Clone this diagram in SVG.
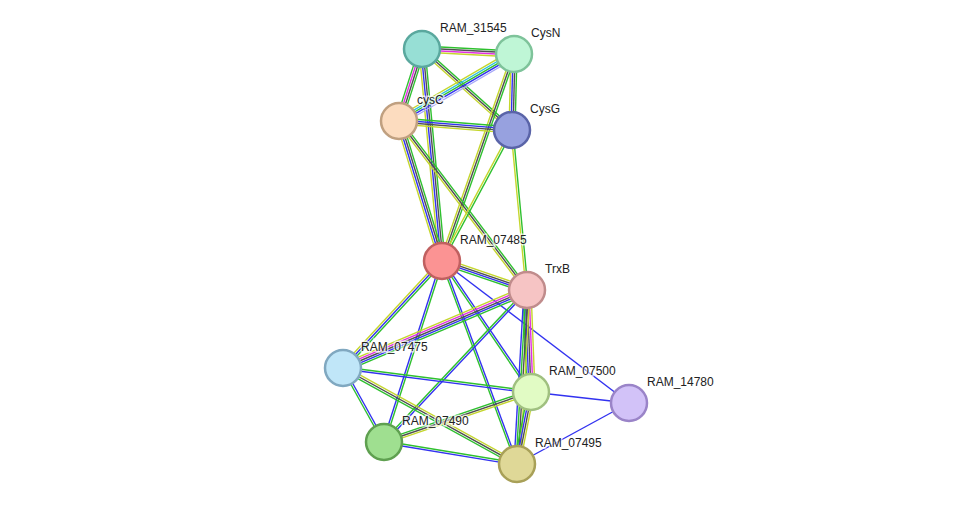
<svg xmlns="http://www.w3.org/2000/svg" width="976" height="510" viewBox="0 0 976 510">
<style>
line{stroke-width:1.4;fill:none}
.g{stroke:#2ec02e}.b{stroke:#3232f0}.k{stroke:#505050}.y{stroke:#c4d62c}.m{stroke:#e030e0}.c{stroke:#30c0e0}.l{stroke:#a8a8f8}
circle{stroke-width:2.5}
text{font-family:"Liberation Sans",Arial,sans-serif;font-size:12px;fill:#222;stroke:#fff;stroke-width:3;stroke-opacity:0.7;paint-order:stroke}
</style>
<rect width="976" height="510" fill="#fff"/>
<g id="edges">
<g><line class="g" x1="422" y1="49" x2="514" y2="54" transform="translate(0,-3)"/><line class="k" x1="422" y1="49" x2="514" y2="54" transform="translate(0,-1)"/><line class="m" x1="422" y1="49" x2="514" y2="54" transform="translate(0,1)"/><line class="y" x1="422" y1="49" x2="514" y2="54" transform="translate(0,3)"/></g>
<g><line class="g" x1="422" y1="49" x2="399" y2="121" transform="translate(2.9,0.9)"/><line class="k" x1="422" y1="49" x2="399" y2="121" transform="translate(1,0.3)"/><line class="m" x1="422" y1="49" x2="399" y2="121" transform="translate(-1,-0.3)"/><line class="g" x1="422" y1="49" x2="399" y2="121" transform="translate(-2.9,-0.9)"/></g>
<g><line class="g" x1="422" y1="49" x2="512" y2="130" transform="translate(1.3,-1.5)"/><line class="k" x1="422" y1="49" x2="512" y2="130"/><line class="y" x1="422" y1="49" x2="512" y2="130" transform="translate(-1.3,1.5)"/></g>
<g><line class="g" x1="422" y1="49" x2="442" y2="261" transform="translate(3,-0.3)"/><line class="k" x1="422" y1="49" x2="442" y2="261" transform="translate(1,-0.1)"/><line class="b" x1="422" y1="49" x2="442" y2="261" transform="translate(-1,0.1)"/><line class="y" x1="422" y1="49" x2="442" y2="261" transform="translate(-3,0.3)"/></g>
<g><line class="l" x1="514" y1="54" x2="399" y2="121" transform="translate(2,3.5)"/><line class="b" x1="514" y1="54" x2="399" y2="121" transform="translate(1,1.7)"/><line class="g" x1="514" y1="54" x2="399" y2="121"/><line class="c" x1="514" y1="54" x2="399" y2="121" transform="translate(-1,-1.7)"/><line class="y" x1="514" y1="54" x2="399" y2="121" transform="translate(-2,-3.5)"/></g>
<g><line class="g" x1="514" y1="54" x2="512" y2="130" transform="translate(3,0)"/><line class="k" x1="514" y1="54" x2="512" y2="130" transform="translate(1,0)"/><line class="b" x1="514" y1="54" x2="512" y2="130" transform="translate(-1,0)"/><line class="y" x1="514" y1="54" x2="512" y2="130" transform="translate(-3,0)"/></g>
<g><line class="g" x1="514" y1="54" x2="442" y2="261" transform="translate(1.9,0.7)"/><line class="k" x1="514" y1="54" x2="442" y2="261"/><line class="y" x1="514" y1="54" x2="442" y2="261" transform="translate(-1.9,-0.7)"/></g>
<g><line class="g" x1="399" y1="121" x2="512" y2="130" transform="translate(0.2,-3)"/><line class="b" x1="399" y1="121" x2="512" y2="130" transform="translate(0.1,-1)"/><line class="k" x1="399" y1="121" x2="512" y2="130" transform="translate(-0.1,1)"/><line class="y" x1="399" y1="121" x2="512" y2="130" transform="translate(-0.2,3)"/></g>
<g><line class="g" x1="399" y1="121" x2="442" y2="261" transform="translate(2.9,-0.9)"/><line class="k" x1="399" y1="121" x2="442" y2="261" transform="translate(1,-0.3)"/><line class="b" x1="399" y1="121" x2="442" y2="261" transform="translate(-1,0.3)"/><line class="y" x1="399" y1="121" x2="442" y2="261" transform="translate(-2.9,0.9)"/></g>
<g><line class="g" x1="399" y1="121" x2="527" y2="290" transform="translate(1.6,-1.2)"/><line class="k" x1="399" y1="121" x2="527" y2="290"/><line class="y" x1="399" y1="121" x2="527" y2="290" transform="translate(-1.6,1.2)"/></g>
<g><line class="g" x1="512" y1="130" x2="442" y2="261" transform="translate(0.9,0.5)"/><line class="y" x1="512" y1="130" x2="442" y2="261" transform="translate(-0.9,-0.5)"/></g>
<g><line class="g" x1="512" y1="130" x2="527" y2="290" transform="translate(1,-0.1)"/><line class="y" x1="512" y1="130" x2="527" y2="290" transform="translate(-1,0.1)"/></g>
<g><line class="y" x1="442" y1="261" x2="527" y2="290" transform="translate(1,-2.8)"/><line class="k" x1="442" y1="261" x2="527" y2="290" transform="translate(0.3,-0.9)"/><line class="b" x1="442" y1="261" x2="527" y2="290" transform="translate(-0.3,0.9)"/><line class="g" x1="442" y1="261" x2="527" y2="290" transform="translate(-1,2.8)"/></g>
<g><line class="g" x1="442" y1="261" x2="343" y2="368" transform="translate(1.5,1.4)"/><line class="b" x1="442" y1="261" x2="343" y2="368"/><line class="y" x1="442" y1="261" x2="343" y2="368" transform="translate(-1.5,-1.4)"/></g>
<g><line class="g" x1="442" y1="261" x2="384" y2="442" transform="translate(1,0.3)"/><line class="b" x1="442" y1="261" x2="384" y2="442" transform="translate(-1,-0.3)"/></g>
<g><line class="b" x1="442" y1="261" x2="531" y2="392" transform="translate(0.8,-0.6)"/><line class="g" x1="442" y1="261" x2="531" y2="392" transform="translate(-0.8,0.6)"/></g>
<g><line class="b" x1="442" y1="261" x2="517" y2="464" transform="translate(0.9,-0.3)"/><line class="g" x1="442" y1="261" x2="517" y2="464" transform="translate(-0.9,0.3)"/></g>
<line class="b" x1="442" y1="261" x2="629" y2="403"/>
<g><line class="g" x1="527" y1="290" x2="343" y2="368" transform="translate(1.6,3.7)"/><line class="b" x1="527" y1="290" x2="343" y2="368" transform="translate(0.8,1.8)"/><line class="k" x1="527" y1="290" x2="343" y2="368"/><line class="m" x1="527" y1="290" x2="343" y2="368" transform="translate(-0.8,-1.8)"/><line class="y" x1="527" y1="290" x2="343" y2="368" transform="translate(-1.6,-3.7)"/></g>
<g><line class="y" x1="527" y1="290" x2="531" y2="392" transform="translate(4,0)"/><line class="m" x1="527" y1="290" x2="531" y2="392" transform="translate(2,0)"/><line class="k" x1="527" y1="290" x2="531" y2="392"/><line class="b" x1="527" y1="290" x2="531" y2="392" transform="translate(-2,0)"/><line class="g" x1="527" y1="290" x2="531" y2="392" transform="translate(-4,0)"/></g>
<g><line class="y" x1="527" y1="290" x2="517" y2="464" transform="translate(3,0.2)"/><line class="k" x1="527" y1="290" x2="517" y2="464" transform="translate(1,0)"/><line class="g" x1="527" y1="290" x2="517" y2="464" transform="translate(-1,0)"/><line class="b" x1="527" y1="290" x2="517" y2="464" transform="translate(-3,-0.2)"/></g>
<g><line class="b" x1="527" y1="290" x2="384" y2="442" transform="translate(0.7,0.7)"/><line class="g" x1="527" y1="290" x2="384" y2="442" transform="translate(-0.7,-0.7)"/></g>
<g><line class="g" x1="343" y1="368" x2="531" y2="392" transform="translate(0.1,-1)"/><line class="b" x1="343" y1="368" x2="531" y2="392" transform="translate(-0.1,1)"/></g>
<g><line class="b" x1="343" y1="368" x2="384" y2="442" transform="translate(0.9,-0.5)"/><line class="g" x1="343" y1="368" x2="384" y2="442" transform="translate(-0.9,0.5)"/></g>
<g><line class="y" x1="343" y1="368" x2="517" y2="464" transform="translate(1,-1.8)"/><line class="k" x1="343" y1="368" x2="517" y2="464"/><line class="g" x1="343" y1="368" x2="517" y2="464" transform="translate(-1,1.8)"/></g>
<g><line class="g" x1="531" y1="392" x2="384" y2="442" transform="translate(-0.6,-1.9)"/><line class="k" x1="531" y1="392" x2="384" y2="442"/><line class="y" x1="531" y1="392" x2="384" y2="442" transform="translate(0.6,1.9)"/></g>
<g><line class="y" x1="531" y1="392" x2="517" y2="464" transform="translate(2.9,0.6)"/><line class="k" x1="531" y1="392" x2="517" y2="464" transform="translate(1,0.2)"/><line class="b" x1="531" y1="392" x2="517" y2="464" transform="translate(-1,-0.2)"/><line class="g" x1="531" y1="392" x2="517" y2="464" transform="translate(-2.9,-0.6)"/></g>
<line class="b" x1="531" y1="392" x2="629" y2="403"/>
<line class="b" x1="517" y1="464" x2="629" y2="403"/>
<g><line class="g" x1="384" y1="442" x2="517" y2="464" transform="translate(0.2,-1)"/><line class="b" x1="384" y1="442" x2="517" y2="464" transform="translate(-0.2,1)"/></g>
</g>
<g id="RAM_31545"><circle cx="422" cy="49" r="18" fill="#97dfd5" stroke="#5aa89e"/><text x="440" y="32">RAM_31545</text></g>
<g id="CysN"><circle cx="514" cy="54" r="18" fill="#bff6d6" stroke="#7ec39a"/><text x="531" y="37">CysN</text></g>
<g id="cysC"><circle cx="399" cy="121" r="18" fill="#fcdcbf" stroke="#c0a080"/><text x="417" y="104">cysC</text></g>
<g id="CysG"><circle cx="512" cy="130" r="18" fill="#97a1df" stroke="#5a64a8"/><text x="530" y="113">CysG</text></g>
<g id="RAM_07485"><circle cx="442" cy="261" r="18" fill="#fb9393" stroke="#c06060"/><text x="460" y="244">RAM_07485</text></g>
<g id="TrxB"><circle cx="527" cy="290" r="18" fill="#f6c4c4" stroke="#c08c8c"/><text x="545" y="273">TrxB</text></g>
<g id="RAM_07475"><circle cx="343" cy="368" r="18" fill="#c0e6f8" stroke="#80a8c0"/><text x="361" y="351">RAM_07475</text></g>
<g id="RAM_07500"><circle cx="531" cy="392" r="18" fill="#e1fbc4" stroke="#a0c080"/><text x="549" y="375">RAM_07500</text></g>
<g id="RAM_14780"><circle cx="629" cy="403" r="18" fill="#d2c2f8" stroke="#9a84c8"/><text x="647" y="386">RAM_14780</text></g>
<g id="RAM_07490"><circle cx="384" cy="442" r="18" fill="#9fdf90" stroke="#5fa050"/><text x="402" y="425">RAM_07490</text></g>
<g id="RAM_07495"><circle cx="517" cy="464" r="18" fill="#dfd897" stroke="#a8a058"/><text x="535" y="447">RAM_07495</text></g>
</svg>
